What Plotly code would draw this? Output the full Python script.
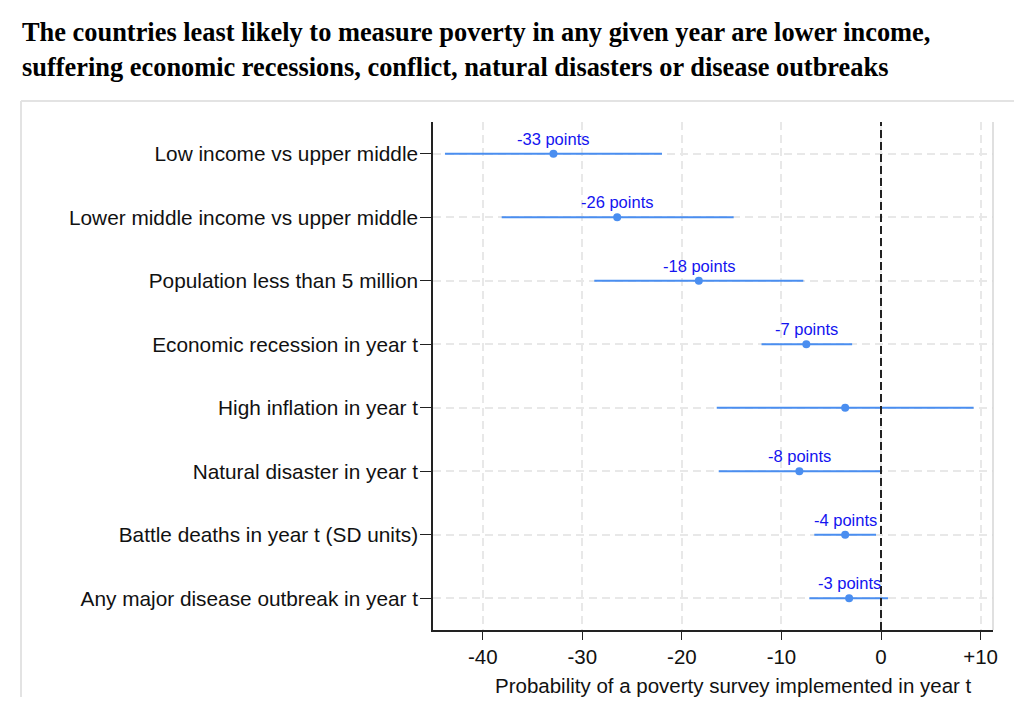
import plotly.graph_objects as go

# coefficient plot: effect on probability of a poverty survey (percentage points)
factors = [
    "Low income vs upper middle",
    "Lower middle income vs upper middle",
    "Population less than 5 million",
    "Economic recession in year t",
    "High inflation in year t",
    "Natural disaster in year t",
    "Battle deaths in year t (SD units)",
    "Any major disease outbreak in year t",
]
estimate = [-32.9, -26.5, -18.3, -7.5, -3.6, -8.2, -3.6, -3.2]
ci_low = [-43.8, -38.1, -28.8, -12.0, -16.5, -16.3, -6.7, -7.2]
ci_high = [-22.0, -14.8, -7.8, -2.9, 9.3, -0.1, -0.5, 0.7]
point_labels = ["-33 points", "-26 points", "-18 points", "-7 points", "",
                "-8 points", "-4 points", "-3 points"]

x_ticks = [-40, -30, -20, -10, 0, 10]
x_tick_text = ["-40", "-30", "-20", "-10", "0", "+10"]
x_title = "Probability of a poverty survey implemented in year t"

title_lines = [
    "The countries least likely to measure poverty in any given year are lower income,",
    "suffering economic recessions, conflict, natural disasters or disease outbreaks",
]

line_blue = "#4a8ef0"
grid_grey = "#e8e8e8"
sans = "Liberation Sans"

fig = go.Figure(go.Scatter(
    x=estimate,
    y=factors,
    mode="markers",
    marker=dict(color=line_blue, size=8),
    error_x=dict(type="data", symmetric=False,
                 array=[h - e for h, e in zip(ci_high, estimate)],
                 arrayminus=[e - l for e, l in zip(estimate, ci_low)],
                 color=line_blue, thickness=2, width=0),
    hoverinfo="skip",
    showlegend=False,
))

fig.update_xaxes(range=[-45, 11.25],
                 tickvals=x_ticks, ticktext=x_tick_text,
                 ticks="outside", ticklen=8, tickwidth=1, tickcolor="#222",
                 showline=True, linecolor="#222", linewidth=1.5,
                 showgrid=True, gridcolor=grid_grey, griddash="8px,5px", gridwidth=1.5,
                 zeroline=False,
                 tickfont=dict(family=sans, size=20.5, color="#111"))

fig.update_yaxes(type="category", categoryorder="array", categoryarray=factors,
                 range=[7.5, -0.5],
                 ticks="outside", ticklen=11, tickwidth=1, tickcolor="#222",
                 ticklabelstandoff=-2,
                 showline=True, linecolor="#222", linewidth=1.5,
                 showgrid=True, gridcolor=grid_grey, griddash="8px,5px", gridwidth=1.5,
                 tickfont=dict(family=sans, size=20.8, color="#111"))

shapes = [
    # reference line at zero
    dict(type="line", xref="x", yref="paper", x0=0, x1=0, y0=0, y1=1,
         line=dict(color="#222", width=2, dash="8px,4px")),
    # light right border of plot area
    dict(type="line", xref="paper", yref="paper", x0=1, x1=1, y0=0, y1=1,
         line=dict(color="#d6d6d6", width=1.5)),
    # outer frame (left and top)
    dict(type="line", xref="paper", yref="paper", x0=-0.7357, x1=-0.7357, y0=-0.132, y1=1.0413,
         line=dict(color="#e3e3e3", width=2)),
    dict(type="line", xref="paper", yref="paper", x0=-0.7357, x1=1.0375, y0=1.0413, y1=1.0413,
         line=dict(color="#e3e3e3", width=2)),
]

annotations = [
    dict(text=title_lines[0], xref="paper", yref="paper", x=-0.738, y=1.177,
         xanchor="left", yanchor="middle", showarrow=False,
         font=dict(family="Liberation Serif", size=26.4, color="#000", weight="bold")),
    dict(text=title_lines[1], xref="paper", yref="paper", x=-0.738, y=1.108,
         xanchor="left", yanchor="middle", showarrow=False,
         font=dict(family="Liberation Serif", size=26.4, color="#000", weight="bold")),
    # x axis title sits a little right of centre in the original
    dict(text=x_title, xref="paper", yref="paper", x=0.537, y=-0.110,
         xanchor="center", yanchor="middle", showarrow=False,
         font=dict(family=sans, size=20.5, color="#111")),
]

# value labels just above each point
for est, fac, lab in zip(estimate, factors, point_labels):
    if lab:
        annotations.append(dict(text=lab, x=est, y=fac, xref="x", yref="y",
                                showarrow=False, yshift=15, xanchor="center",
                                yanchor="middle",
                                font=dict(family=sans, size=16.5, color="#1414f0")))

# page body adds 8px around the figure
fig.update_layout(width=1008, height=705,
                  paper_bgcolor="white", plot_bgcolor="white",
                  margin=dict(l=425, r=23, t=114, b=83),
                  shapes=shapes, annotations=annotations)

fig.write_html("out.html")
